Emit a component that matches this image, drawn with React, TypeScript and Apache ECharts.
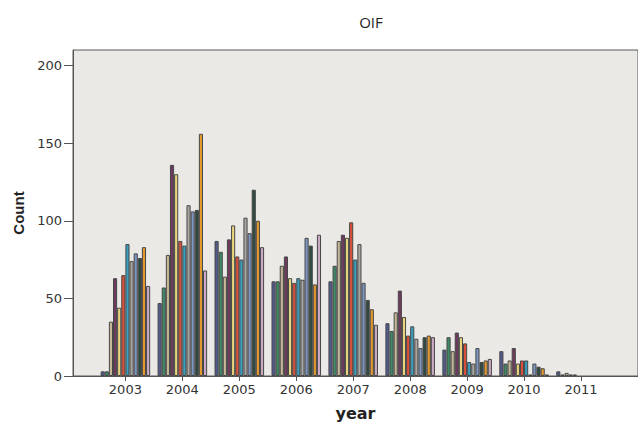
import React, { useEffect, useRef } from 'react';
import * as echarts from 'echarts';

const years = [2003, 2004, 2005, 2006, 2007, 2008, 2009, 2010, 2011];
const months = ['Jan', 'Feb', 'Mar', 'Apr', 'May', 'Jun', 'Jul', 'Aug', 'Sep', 'Oct', 'Nov', 'Dec'];

const y2003 = [3, 3, 35, 63, 44, 65, 85, 74, 79, 76, 83, 58];
const y2004 = [47, 57, 78, 136, 130, 87, 84, 110, 106, 107, 156, 68];
const y2005 = [87, 80, 64, 88, 97, 77, 75, 102, 92, 120, 100, 83];
const y2006 = [61, 61, 71, 77, 63, 60, 63, 62, 89, 84, 59, 91];
const y2007 = [61, 71, 87, 91, 89, 99, 75, 85, 60, 49, 43, 33];
const y2008 = [34, 29, 41, 55, 38, 26, 32, 24, 18, 25, 26, 25];
const y2009 = [17, 25, 16, 28, 25, 21, 9, 8, 18, 9, 10, 11];
const y2010 = [16, 8, 10, 18, 8, 10, 10, 1, 8, 6, 5, 1];
const y2011 = [3, 1, 2, 1, 1, 0, 0, 0, 0, 0, 0, 0];

const yTicks = [0, 50, 100, 150, 200];

const monthColors = [
  '#525b8c', '#3e8a66', '#c6b896', '#6e3b5e', '#e8d47c', '#d9503a',
  '#3a9fbe', '#aaa6a2', '#7c96c2', '#2f4a40', '#e4992f', '#c9a9c3',
];

const yearTable = [y2003, y2004, y2005, y2006, y2007, y2008, y2009, y2010, y2011];

export default function App() {
  const ref = useRef<HTMLDivElement>(null);
  useEffect(() => {
    if (!ref.current) return;
    const chart = echarts.init(ref.current, null, { renderer: 'svg' });
    const series = months.map((m, i) => ({
      type: 'bar',
      name: m,
      data: years.map((yr, j) => [yr, yearTable[j][i] === 0 ? '-' : yearTable[j][i]]),
      barGap: '0%',
      barCategoryGap: '13%',
      itemStyle: { color: monthColors[i], borderColor: '#474747', borderWidth: 1 },
    }));
    chart.setOption({
      animation: false,
      backgroundColor: '#ffffff',
      grid: {
        left: 73,
        top: 50,
        width: 572,
        height: 334,
        show: true,
        backgroundColor: '#ebe9e6',
        borderColor: '#5a5a5a',
        borderWidth: 1,
      },
      graphic: [
        {
          type: 'text',
          x: 371,
          y: 22,
          style: {
            text: 'OIF',
            fill: '#222',
            fontSize: 15,
            fontFamily: '"Open Sans"',
            align: 'center',
            verticalAlign: 'middle',
            textAlign: 'center',
            textVerticalAlign: 'middle',
          },
        },
      ],
      xAxis: {
        type: 'value',
        min: 2002.08,
        max: 2012,
        splitLine: { show: false },
        axisLine: { show: true, lineStyle: { color: '#555', width: 1 } },
        axisTick: { show: true, length: 5, customValues: years, lineStyle: { color: '#555' } },
        axisLabel: {
          customValues: years,
          margin: 7,
          fontSize: 13,
          fontFamily: '"DejaVu Sans"',
          color: '#333',
          formatter: (v: number) => String(v),
        },
        name: 'year',
        nameLocation: 'middle',
        nameGap: 29,
        nameTextStyle: { fontWeight: 'bold', fontSize: 16, fontFamily: '"DejaVu Sans"', color: '#222' },
      },
      yAxis: {
        type: 'value',
        min: 0,
        max: 210,
        splitLine: { show: false },
        axisLine: { show: true, lineStyle: { color: '#555', width: 1 } },
        axisTick: { show: true, length: 9, customValues: yTicks, lineStyle: { color: '#555' } },
        axisLabel: {
          customValues: yTicks,
          margin: 11,
          fontSize: 13,
          fontFamily: '"DejaVu Sans"',
          color: '#333',
        },
        name: 'Count',
        nameLocation: 'middle',
        nameGap: 42,
        nameTextStyle: { fontWeight: 'bold', fontSize: 15, fontFamily: '"Liberation Sans"', color: '#222' },
      },
      series,
    });
    return () => chart.dispose();
  }, []);
  return (
    <div
      ref={ref}
      style={{ position: 'fixed', left: 0, top: 0, width: 638, height: 426, background: '#fff' }}
    />
  );
}
